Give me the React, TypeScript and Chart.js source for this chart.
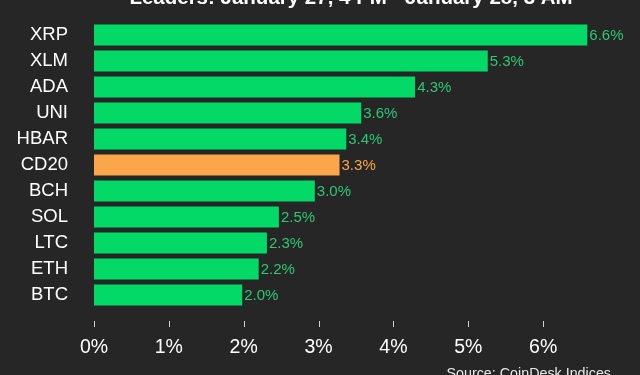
import { useEffect, useRef } from "react";
import { Chart, registerables } from "chart.js";

Chart.register(...registerables);

const CATEGORIES = ["XRP", "XLM", "ADA", "UNI", "HBAR", "CD20", "BCH", "SOL", "LTC", "ETH", "BTC"];
const VALUES = [6.59, 5.26, 4.29, 3.57, 3.37, 3.28, 2.95, 2.47, 2.31, 2.2, 1.98];
const HIGHLIGHT = "CD20";
const TICK_VALUES = [0, 1, 2, 3, 4, 5, 6];
const TITLE = "Leaders: January 27, 4 PM - January 28, 3 AM";
const SOURCE = "Source: CoinDesk Indices";

const BG = "#262626";
const GREEN = "#03d967";
const ORANGE = "#fba64a";
const LABEL_GREEN = "#2cc873";
const FONT = "'Liberation Sans', Arial, sans-serif";

export default function App() {
  const ref = useRef<HTMLCanvasElement | null>(null);

  useEffect(() => {
    if (!ref.current) return;
    const colors = CATEGORIES.map((c) => (c === HIGHLIGHT ? ORANGE : GREEN));
    const labelColors = CATEGORIES.map((c) => (c === HIGHLIGHT ? ORANGE : LABEL_GREEN));

    const extras = {
      id: "extras",
      beforeDraw(chart: any) {
        const ctx = chart.ctx;
        ctx.save();
        ctx.fillStyle = BG;
        ctx.fillRect(0, 0, chart.width, chart.height);
        ctx.restore();
      },
      afterDatasetsDraw(chart: any) {
        const ctx = chart.ctx;
        const meta = chart.getDatasetMeta(0);
        ctx.save();
        ctx.font = `15px ${FONT}`;
        ctx.textAlign = "left";
        ctx.textBaseline = "middle";
        meta.data.forEach((bar: any, i: number) => {
          ctx.fillStyle = labelColors[i];
          ctx.fillText(VALUES[i].toFixed(1) + "%", bar.x + 2, bar.y + 1);
        });
        ctx.restore();
      },
      afterDraw(chart: any) {
        const ctx = chart.ctx;
        const xs = chart.scales.x;
        const bottom = chart.chartArea.bottom;
        ctx.save();
        ctx.strokeStyle = "#d0d0d0";
        ctx.lineWidth = 1;
        TICK_VALUES.forEach((v) => {
          const px = Math.round(xs.getPixelForValue(v)) + 0.5;
          ctx.beginPath();
          ctx.moveTo(px, bottom + 13);
          ctx.lineTo(px, bottom + 19);
          ctx.stroke();
        });
        ctx.fillStyle = "#ffffff";
        ctx.font = `bold 20.5px ${FONT}`;
        ctx.textAlign = "center";
        ctx.textBaseline = "alphabetic";
        ctx.fillText(TITLE, 351, 4);
        ctx.font = `14.3px ${FONT}`;
        ctx.fillStyle = "#e8e8e8";
        ctx.textAlign = "right";
        ctx.fillText(SOURCE, 611, 378);
        ctx.restore();
      },
    };

    const chart = new Chart(ref.current, {
      type: "bar",
      data: {
        labels: CATEGORIES,
        datasets: [
          {
            data: VALUES,
            backgroundColor: colors,
            borderWidth: 0,
            barPercentage: 0.8,
            categoryPercentage: 1,
          },
        ],
      },
      options: {
        indexAxis: "y",
        responsive: false,
        animation: false,
        layout: { padding: { top: 22, right: 22, left: 0, bottom: 0 } },
        plugins: {
          legend: { display: false },
          tooltip: { enabled: false },
          title: { display: false },
        },
        scales: {
          x: {
            min: 0,
            max: 7,
            grid: { display: false, drawTicks: false },
            border: { display: false },
            afterBuildTicks(scale: any) {
              scale.ticks = TICK_VALUES.map((v) => ({ value: v }));
            },
            afterFit(scale: any) {
              scale.height = 67;
              scale.paddingLeft = 0;
              scale.paddingRight = 0;
            },
            ticks: {
              color: "#ffffff",
              padding: 28,
              font: { family: FONT, size: 19.5 },
              callback: (v: any) => `${v}%`,
            },
          },
          y: {
            grid: { display: false, drawTicks: false },
            border: { display: false },
            afterFit(scale: any) {
              scale.width = 94;
              scale.paddingTop = 0;
              scale.paddingBottom = 0;
            },
            ticks: {
              color: "#ffffff",
              padding: 26,
              font: { family: FONT, size: 18.5 },
            },
          },
        },
      },
      plugins: [extras],
    });

    return () => chart.destroy();
  }, []);

  return (
    <div style={{ position: "fixed", left: 0, top: 0, width: 640, height: 375, background: BG }}>
      <canvas ref={ref} width={640} height={375} />
    </div>
  );
}
